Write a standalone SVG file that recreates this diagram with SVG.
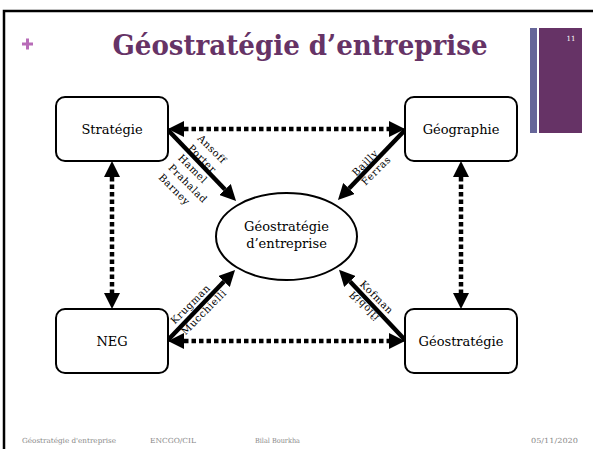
<svg xmlns="http://www.w3.org/2000/svg" width="593" height="449" viewBox="0 0 593 449">
<defs>
<style>
.frame{fill:none;stroke:#000;stroke-width:2.5}
.box{fill:#fff;stroke:#000;stroke-width:2}
.ell{fill:#fff;stroke:#000;stroke-width:2}
.nt{font-family:"DejaVu Serif","Liberation Serif",serif;font-size:13px;fill:#000;text-anchor:middle}
.dot{fill:none;stroke:#000;stroke-width:4.5;stroke-dasharray:4.5 3}
.solid{fill:none;stroke:#000;stroke-width:4.5}
.lbl{font-family:"DejaVu Serif","Liberation Serif",serif;font-size:10px;letter-spacing:0.6px;fill:#000}
.title{font-family:"DejaVu Serif","Liberation Serif",serif;font-weight:bold;font-size:27px;fill:#663366;text-anchor:middle}
.foot{font-family:"DejaVu Serif","Liberation Serif",serif;font-size:7px;fill:#888}
</style>
<marker id="ah" markerUnits="userSpaceOnUse" markerWidth="16" markerHeight="16" refX="0" refY="8" orient="auto-start-reverse" viewBox="0 0 16 16">
<path d="M0,0 L16,8 L0,16 z" fill="#000"/>
</marker>
</defs>
<rect width="593" height="449" fill="#fff"/>
<rect class="frame" x="4" y="11" width="600" height="450"/>
<g id="header">
<path d="M22,44 H33 M27.5,38.5 V49.5" stroke="#b86cb8" stroke-width="3"/>
<text class="title" x="300" y="55" textLength="375" lengthAdjust="spacingAndGlyphs">Géostratégie d’entreprise</text>
<rect x="530" y="28" width="7" height="105" fill="#666699"/>
<rect x="539" y="28" width="43" height="105" fill="#663366"/>
<text x="571" y="41" font-family="DejaVu Serif, serif" font-size="7" fill="#fff" text-anchor="middle">11</text>
</g>
<g id="connectors">
<line class="dot" x1="184" y1="129" x2="389" y2="129" marker-start="url(#ah)" marker-end="url(#ah)"/>
<line class="dot" x1="184" y1="341" x2="389" y2="341" marker-start="url(#ah)" marker-end="url(#ah)"/>
<line class="dot" x1="112" y1="177" x2="112" y2="293" marker-start="url(#ah)" marker-end="url(#ah)"/>
<line class="dot" x1="461" y1="177" x2="461" y2="293" marker-start="url(#ah)" marker-end="url(#ah)"/>
<line class="solid" x1="167" y1="129" x2="225" y2="189.5" marker-end="url(#ah)"/>
<line class="solid" x1="406" y1="129" x2="349" y2="188.5" marker-end="url(#ah)"/>
<line class="solid" x1="167" y1="341" x2="224" y2="281.5" marker-end="url(#ah)"/>
<line class="solid" x1="406" y1="341" x2="350" y2="281.5" marker-end="url(#ah)"/>
<g transform="rotate(45)">
<text class="lbl" x="237.5" y="-41">Ansoff</text>
<text class="lbl" x="237.5" y="-27.2">Porter</text>
<text class="lbl" x="237.5" y="-13.4">Hamel</text>
<text class="lbl" x="237.5" y="0.4">Prahalad</text>
<text class="lbl" x="237.5" y="14.2">Barney</text>
</g>
<g transform="rotate(-45)">
<text class="lbl" x="127" y="376.8">Bailly</text>
<text class="lbl" x="127" y="390">Ferras</text>
<text class="lbl" x="-106" y="353.1">Krugman</text>
<text class="lbl" x="-106" y="368.3">Mucchielli</text>
</g>
<g transform="rotate(45)">
<text class="lbl" x="455.5" y="-52.7">Kofman</text>
<text class="lbl" transform="translate(455.5,-41) scale(1,-1)" x="0" y="3.5">Ridolfi</text>
</g>
</g>
<g id="strategie">
<rect class="box" x="56" y="97" width="112" height="64" rx="9"/>
<text class="nt" x="112" y="133.5">Stratégie</text>
</g>
<g id="geographie">
<rect class="box" x="405" y="97" width="112" height="64" rx="9"/>
<text class="nt" x="461" y="133.5">Géographie</text>
</g>
<g id="neg">
<rect class="box" x="56" y="309" width="112" height="64" rx="9"/>
<text class="nt" x="112" y="345.5">NEG</text>
</g>
<g id="geostrategie">
<rect class="box" x="405" y="309" width="112" height="64" rx="9"/>
<text class="nt" x="461" y="345.5">Géostratégie</text>
</g>
<g id="centre">
<ellipse class="ell" cx="286.5" cy="236.5" rx="70.5" ry="43.5"/>
<text class="nt" x="286.5" y="231">Géostratégie</text>
<text class="nt" x="286.5" y="248">d’entreprise</text>
</g>
<g id="footer">
<text class="foot" x="22" y="443" textLength="94" lengthAdjust="spacingAndGlyphs">Géostratégie d'entreprise</text>
<text class="foot" x="150" y="443" textLength="46" lengthAdjust="spacingAndGlyphs">ENCGO/CIL</text>
<text class="foot" x="255" y="443" textLength="45" lengthAdjust="spacingAndGlyphs">Bilal Bourkha</text>
<text class="foot" x="531" y="443" textLength="47" lengthAdjust="spacingAndGlyphs">05/11/2020</text>
</g>
</svg>
